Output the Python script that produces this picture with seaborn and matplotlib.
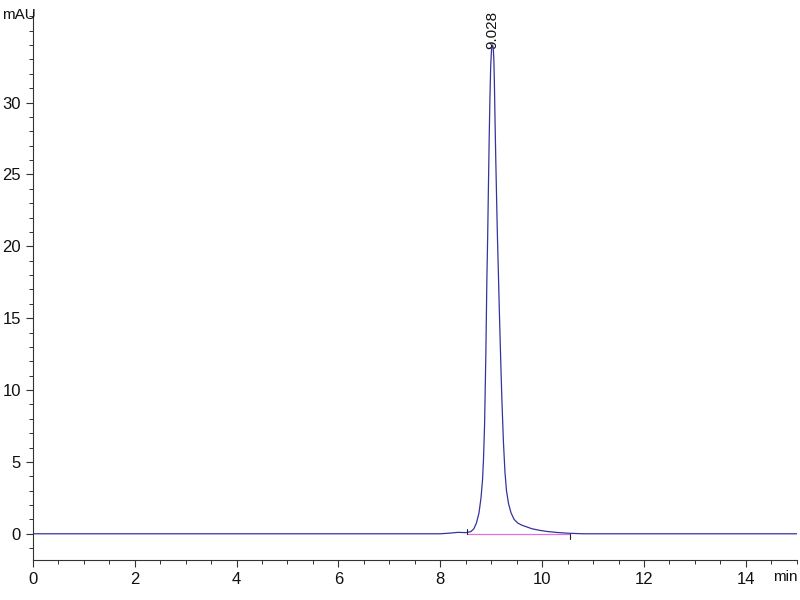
import numpy as np
import pandas as pd
import seaborn as sns
import matplotlib.pyplot as plt
from matplotlib.ticker import MultipleLocator

# chromatogram points (min, mAU)
time_min = [0.0, 2.9, 4.8, 8.0, 8.2, 8.35, 8.5, 8.6, 8.66, 8.71, 8.76, 8.8, 8.83,
            8.85, 8.87, 8.895, 8.915, 8.93, 8.945, 8.96, 8.975, 8.99, 9.005,
            9.018, 9.028, 9.04, 9.052, 9.062, 9.075, 9.09, 9.105, 9.12, 9.14,
            9.16, 9.185, 9.21, 9.24, 9.27, 9.3, 9.34, 9.39, 9.45, 9.52, 9.6, 9.68,
            9.8, 9.95, 10.1, 10.3, 10.5, 10.8, 15.0]
signal_mau = [0.0, 0.0, 0.0, 0.0, 0.05, 0.1, 0.08, 0.15, 0.35, 0.75, 1.45, 2.5, 3.76,
              5.3, 7.6, 12.5, 17.7, 20.5, 24.0, 27.4, 30.3, 32.5, 33.6,
              34.0, 34.0, 33.8, 33.0, 31.5, 28.8, 26.0, 23.5, 21.0, 18.3,
              15.5, 12.3, 9.3, 6.4, 4.3, 3.0, 2.1, 1.45, 1.0, 0.75, 0.6, 0.5,
              0.35, 0.24, 0.16, 0.09, 0.04, 0.0, 0.0]

peak_rt = 9.028
peak_height = 34.0
peak_label = "9.028"
base_start = 8.53
base_end = 10.55

df = pd.DataFrame({'t': time_min, 'mAU': signal_mau})

sns.set_style('ticks')
plt.rcParams['font.family'] = ['Liberation Sans Narrow', 'Liberation Sans', 'DejaVu Sans']

fig = plt.figure(figsize=(8, 6), dpi=100)
ax = fig.add_axes([0.041, 0.067, 0.955, 0.913])

sns.lineplot(data=df, x='t', y='mAU', ax=ax, color='#34349c', linewidth=0.9)
# integration baseline and its start/end marks
ax.plot([base_start, base_end], [0, 0], color='#e070e0', linewidth=0.9)
ax.plot([base_start, base_start], [0, 0.35], color='#222244', linewidth=0.8)
ax.plot([base_end, base_end], [0, -0.35], color='#222244', linewidth=0.8)

ax.text(peak_rt, peak_height - 0.3, peak_label, rotation=90, ha='center',
        va='bottom', fontsize=11, color='#111111')

ax.set_xlim(0, 15)
ax.set_ylim(-1.81, 36.3)
ax.set_xticks([0, 2, 4, 6, 8, 10, 12, 14])
ax.set_yticks([0, 5, 10, 15, 20, 25, 30])
ax.xaxis.set_minor_locator(MultipleLocator(0.5))
ax.yaxis.set_minor_locator(MultipleLocator(1))
ax.tick_params(axis='both', which='major', length=5, width=0.8, labelsize=12,
               color='#333333', labelcolor='#111111')
ax.tick_params(axis='both', which='minor', length=3, width=0.7, color='#333333')
ax.set_xlabel('')
ax.set_ylabel('')
sns.despine(ax=ax)
for s in ['left', 'bottom']:
    ax.spines[s].set_color('#333333')
    ax.spines[s].set_linewidth(0.8)

fig.text(0.003, 0.975, 'mAU', fontsize=11, ha='left', va='center', color='#111111')
fig.text(0.997, 0.038, 'min', fontsize=11, ha='right', va='center', color='#111111')

fig.savefig('out.png', dpi=100)
